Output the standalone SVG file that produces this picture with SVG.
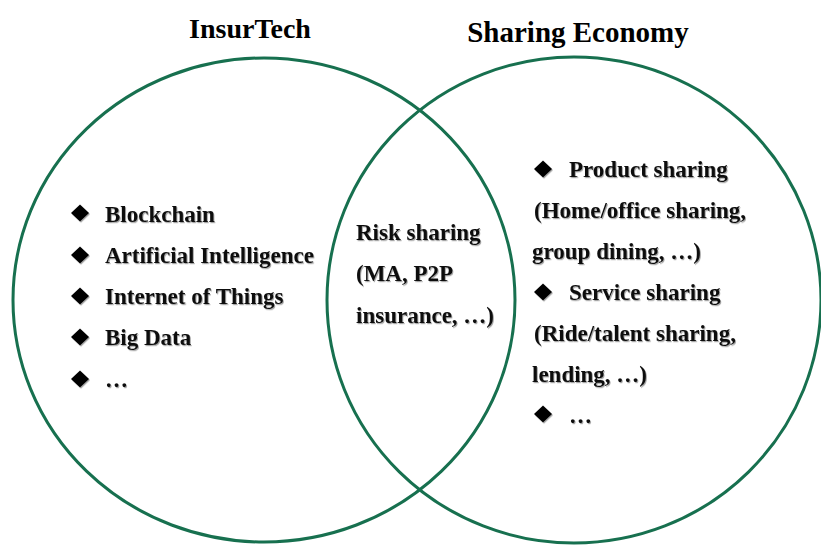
<svg xmlns="http://www.w3.org/2000/svg" xmlns:xlink="http://www.w3.org/1999/xlink" width="821" height="545" viewBox="0 0 821 545">
  <style>
    .ring { fill: none; stroke: #17704f; stroke-width: 3; }
    .title { font-family: "Liberation Serif", "Times New Roman", serif; font-weight: bold; font-size: 28px; fill: #000; text-anchor: middle; }
    .item { font-family: "Liberation Serif", "Times New Roman", serif; font-weight: bold; font-size: 23px; fill: #111; filter: url(#soft); }
    .bullet { fill: #000; filter: url(#soft); }
  </style>
  <defs>
    <filter id="soft" x="-10%" y="-30%" width="120%" height="160%">
      <feDropShadow dx="1" dy="1.2" stdDeviation="0.7" flood-color="#000" flood-opacity="0.35"/>
    </filter>
    <path id="dia" d="M0,-8.5 L9,0 L0,8.5 L-9,0 Z"/>
  </defs>

  <rect width="821" height="545" fill="#fff"/>

  <!-- the two overlapping sets -->
  <g id="set-insurtech">
    <ellipse class="ring" cx="264" cy="300" rx="251" ry="242"/>
    <text class="title" x="250" y="38">InsurTech</text>
  </g>
  <g id="set-sharing">
    <ellipse class="ring" cx="574" cy="300" rx="247" ry="243"/>
    <text class="title" x="578" y="42" style="font-size:29px">Sharing Economy</text>
  </g>

  <!-- InsurTech technologies -->
  <g id="list-insurtech">
    <use class="bullet" xlink:href="#dia" x="80" y="213"/>
    <text class="item" x="105" y="222">Blockchain</text>
    <use class="bullet" xlink:href="#dia" x="80" y="255"/>
    <text class="item" x="105" y="263">Artificial Intelligence</text>
    <use class="bullet" xlink:href="#dia" x="80" y="296"/>
    <text class="item" x="105" y="304">Internet of Things</text>
    <use class="bullet" xlink:href="#dia" x="80" y="337"/>
    <text class="item" x="105" y="345">Big Data</text>
    <use class="bullet" xlink:href="#dia" x="80" y="379"/>
    <text class="item" x="105" y="387">…</text>
  </g>

  <!-- overlap -->
  <g id="overlap">
    <text class="item" x="356" y="240">Risk sharing</text>
    <text class="item" x="356" y="281">(MA, P2P</text>
    <text class="item" x="356" y="323">insurance, …)</text>
  </g>

  <!-- Sharing economy categories -->
  <g id="list-sharing">
    <use class="bullet" xlink:href="#dia" x="543" y="169"/>
    <text class="item" x="569" y="177">Product sharing</text>
    <text class="item" x="534" y="218">(Home/office sharing,</text>
    <text class="item" x="532" y="259">group dining, …)</text>
    <use class="bullet" xlink:href="#dia" x="543" y="292"/>
    <text class="item" x="569" y="300">Service sharing</text>
    <text class="item" x="534" y="341">(Ride/talent sharing,</text>
    <text class="item" x="532" y="382">lending, …)</text>
    <use class="bullet" xlink:href="#dia" x="543" y="414"/>
    <text class="item" x="569" y="423">…</text>
  </g>
</svg>
